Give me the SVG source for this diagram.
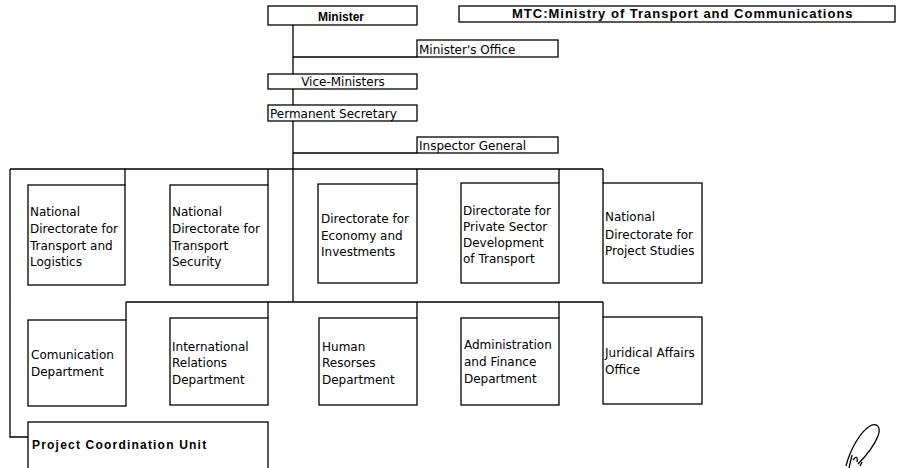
<svg xmlns="http://www.w3.org/2000/svg" width="899" height="468" viewBox="0 0 899 468">
<style>
rect{fill:#fff;stroke:#000;stroke-width:1.3}
.c{fill:none;stroke:#000;stroke-width:1.3}
text{font-family:"DejaVu Sans",sans-serif;font-size:12px;fill:#000}
.b{font-family:"Liberation Sans",Arial,sans-serif;font-weight:bold}
</style>
<rect x="0" y="0" width="899" height="468" style="stroke:none"/>
<g id="connectors">
<path class="c" d="M293 25V302M293 57H417M293 153H417M10 169H603M10 169V437H28M126 302H603"/>
<path class="c" d="M125 169V185M268 169V185M417 169V184M559 169V183M603 169V183"/>
<path class="c" d="M126 302V320M268 302V318M417 302V318M559 302V318M603 302V317"/>
</g>
<g id="minister"><rect x="268" y="6" width="149" height="19"/><text class="b" x="341" y="21" text-anchor="middle">Minister</text></g>
<g id="mtc"><rect x="459" y="6" width="436" height="16"/><text class="b" x="512" y="18" style="font-size:13px;letter-spacing:1px">MTC:Ministry of Transport and Communications</text></g>
<g id="ministers-office"><rect x="417" y="40" width="141" height="17"/><text x="419" y="54">Minister's Office</text></g>
<g id="vice-ministers"><rect x="268" y="74" width="149" height="15"/><text x="343" y="86" text-anchor="middle">Vice-Ministers</text></g>
<g id="permanent-secretary"><rect x="268" y="105" width="149" height="16"/><text x="270" y="118">Permanent Secretary</text></g>
<g id="inspector-general"><rect x="417" y="137" width="141" height="16"/><text x="419" y="150">Inspector General</text></g>
<g id="nd-transport-logistics"><rect x="28" y="185" width="97" height="100"/><text x="30" y="216">National<tspan x="30" y="233">Directorate for</tspan><tspan x="30" y="250">Transport and</tspan><tspan x="30" y="266">Logistics</tspan></text></g>
<g id="nd-transport-security"><rect x="170" y="185" width="98" height="100"/><text x="172" y="216">National<tspan x="172" y="233">Directorate for</tspan><tspan x="172" y="250">Transport</tspan><tspan x="172" y="266">Security</tspan></text></g>
<g id="d-economy"><rect x="318" y="184" width="99" height="99"/><text x="321" y="223">Directorate for<tspan x="321" y="240">Economy and</tspan><tspan x="321" y="256">Investments</tspan></text></g>
<g id="d-private-sector"><rect x="461" y="183" width="98" height="100"/><text x="463" y="215">Directorate for<tspan x="463" y="231">Private Sector</tspan><tspan x="463" y="247">Development</tspan><tspan x="463" y="263">of Transport</tspan></text></g>
<g id="nd-project-studies"><rect x="603" y="183" width="99" height="100"/><text x="605" y="221">National<tspan x="605" y="239">Directorate for</tspan><tspan x="605" y="255">Project Studies</tspan></text></g>
<g id="comunication"><rect x="28" y="320" width="98" height="86"/><text x="31" y="359">Comunication<tspan x="31" y="376">Department</tspan></text></g>
<g id="international"><rect x="170" y="318" width="98" height="87"/><text x="172" y="351">International<tspan x="172" y="367">Relations</tspan><tspan x="172" y="384">Department</tspan></text></g>
<g id="human"><rect x="319" y="318" width="98" height="87"/><text x="322" y="351">Human<tspan x="322" y="367">Resorses</tspan><tspan x="322" y="384">Department</tspan></text></g>
<g id="admin-finance"><rect x="461" y="318" width="98" height="87"/><text x="464" y="349">Administration<tspan x="464" y="366">and Finance</tspan><tspan x="464" y="383">Department</tspan></text></g>
<g id="juridical"><rect x="603" y="317" width="99" height="87"/><text x="605" y="357">Juridical Affairs<tspan x="605" y="374">Office</tspan></text></g>
<g id="pcu"><rect x="28" y="422" width="240" height="60"/><text class="b" x="32" y="449" style="letter-spacing:1.2px">Project Coordination Unit</text></g>
<path class="c" d="M846 466C850 450 860 432 870 426C878 422 881 428 878 436C874 446 864 458 858 464M852 455L849 468M853 460C856 456 858 456 857 462M860 466L862 462"/>
</svg>
